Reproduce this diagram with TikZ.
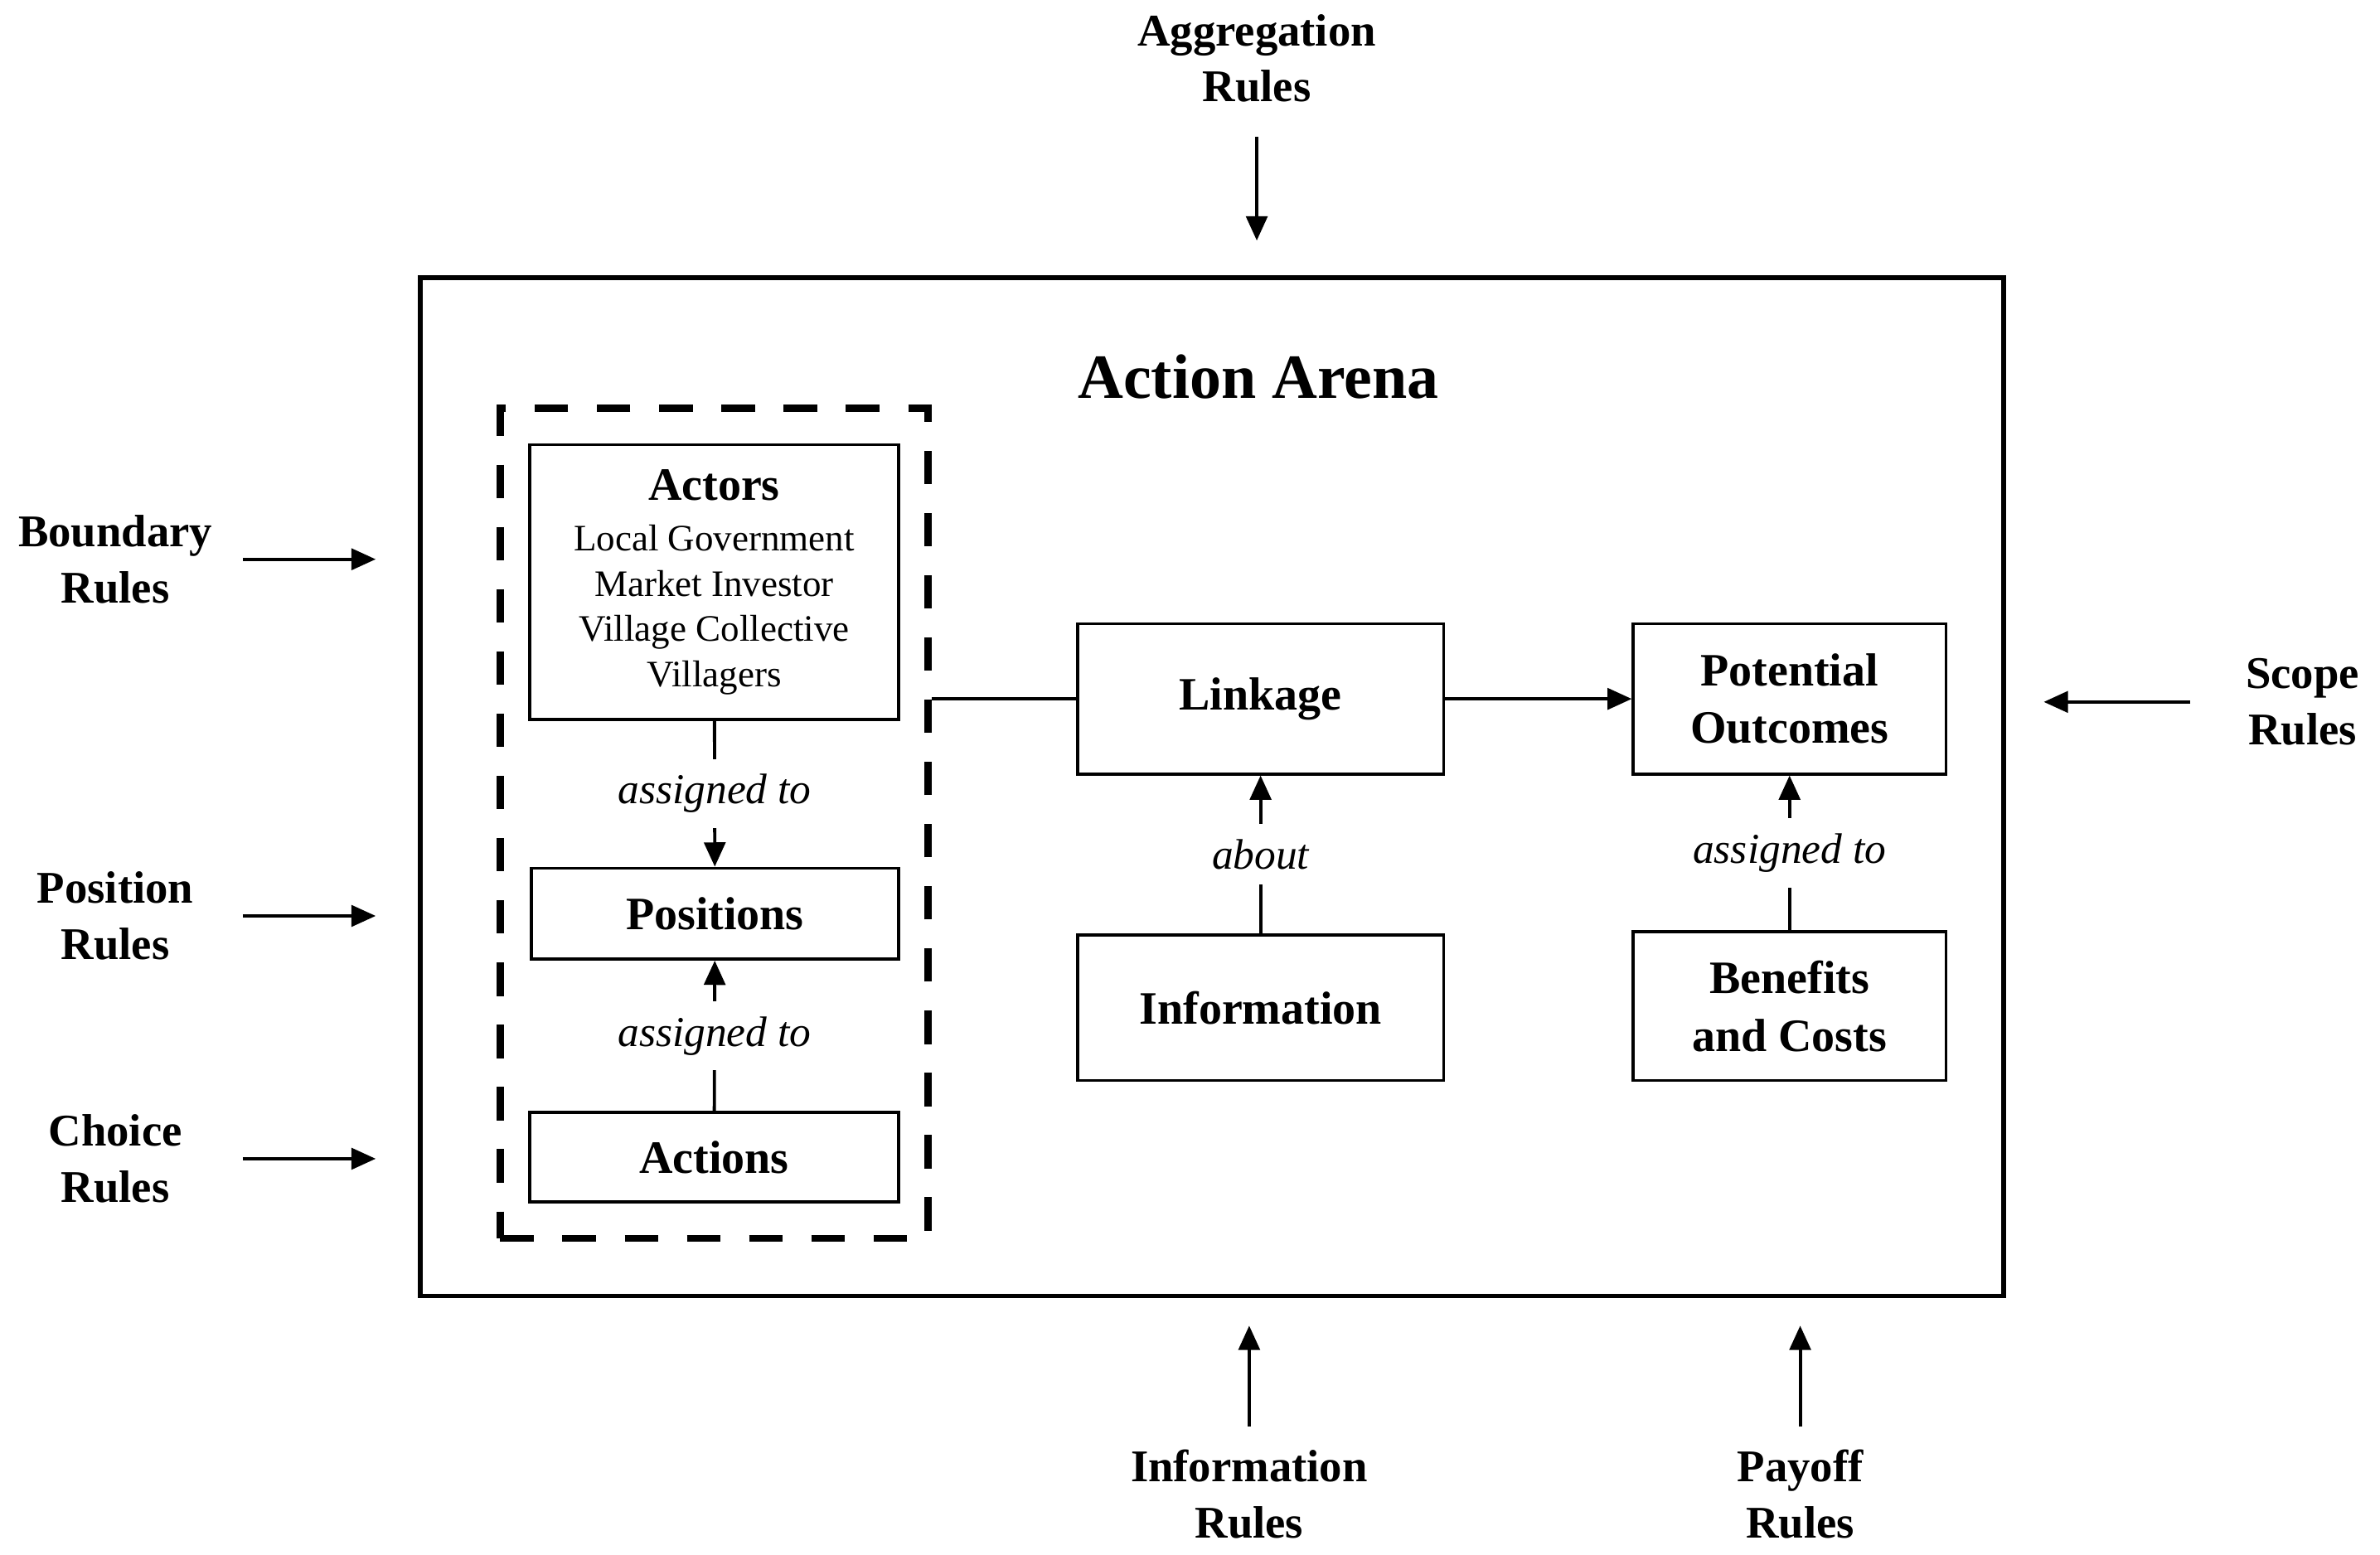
\documentclass[tikz,border=0pt]{standalone}
\usepackage{fontspec}
\setmainfont{Liberation Serif}
\usetikzlibrary{arrows.meta,fit}
\tikzset{
  box/.style={draw, line width=0.55pt, inner sep=0pt, align=center, font=\fontsize{8.7}{10.8}\selectfont\bfseries},
  rulelbl/.style={inner sep=0pt, align=center, font=\fontsize{8.5}{10.5}\selectfont\bfseries},
  lbl/.style={fill=white, inner xsep=1pt, inner ysep=1mm, font=\fontsize{8}{9}\selectfont\itshape},
  arr/.style={line width=0.6pt, -{Triangle[length=1.6mm,width=1.4mm]}},
}
\begin{document}
\begin{tikzpicture}[x=0.1mm,y=-0.1mm]
\useasboundingbox (0,0) rectangle (1568,1024.5);
\node[draw, line width=0.85pt, minimum width=104.3mm, minimum height=67.1mm] (arena) at (798.5,518.5) {};
\node[font=\fontsize{11.8}{14}\selectfont\bfseries] (ttl) at (829,248) {Action Arena};
% actors, positions, actions
\node[box, minimum width=24.3mm, minimum height=18.1mm, font=\fontsize{7}{8.5}\selectfont] (act) at (470.5,383.5) {{\fontsize{8.7}{9.4}\selectfont\bfseries Actors}\\[1pt]Local Government\\Market Investor\\Village Collective\\Villagers};
\node[box, minimum width=24.2mm, minimum height=6mm] (pos) at (471,602) {Positions};
\node[box, minimum width=24.3mm, minimum height=5.9mm] (acn) at (470.5,762.5) {Actions};
\node[draw, line width=1.3pt, dash pattern=on 2.2mm off 1.9mm, inner xsep=1.85mm, inner ysep=2.3mm, fit=(act)(acn)] (grp) {};
\node[box, minimum width=24.1mm, minimum height=9.9mm] (lnk) at (830.5,460.5) {Linkage};
\node[box, minimum width=24.1mm, minimum height=9.6mm] (inf) at (830.5,664) {Information};
\node[box, minimum width=20.6mm, minimum height=9.9mm] (pot) at (1179,460.5) {Potential\\Outcomes};
\node[box, minimum width=20.6mm, minimum height=9.8mm] (bnc) at (1179,663) {Benefits\\and Costs};
\draw[arr] (act) -- node[lbl] {assigned to} (pos);
\draw[arr] (acn) -- node[lbl] {assigned to} (pos);
\draw[arr] (inf) -- node[lbl] {about} (lnk);
\draw[arr] (bnc) -- node[lbl] {assigned to} (pot);
\draw[line width=0.6pt] (grp.east |- lnk) -- (lnk);
\draw[arr] (lnk) -- (pot);
% rules round the arena
\foreach \n/\y/\t in {rbnd/368.5/Boundary, rpos/603.5/Position, rcho/763.5/Choice}{
  \node[rulelbl] (\n) at (76,\y) {\t\\Rules};
  \draw[arr, shorten <=8.4mm, shorten >=2.8mm] (\n.center) -- (\n.center -| arena.west);
}
\node[rulelbl] (rsco) at (1517,462.5) {Scope\\Rules};
\draw[arr, shorten <=7.4mm, shorten >=2.5mm] (rsco.center) -- (rsco.center -| arena.east);
\node[rulelbl] (ragg) at (828,38.5) {Aggregation\\Rules};
\draw[arr, shorten <=5.15mm, shorten >=2.3mm] (ragg.center) -- (ragg.center |- arena.north);
\foreach \n/\x/\t in {rinf/823/Information, rpay/1186/Payoff}{
  \node[rulelbl] (\n) at (\x,984.5) {\t\\Rules};
  \draw[arr, shorten <=4.45mm, shorten >=1.8mm] (\n.center) -- (\n.center |- arena.south);
}
\end{tikzpicture}
\end{document}
